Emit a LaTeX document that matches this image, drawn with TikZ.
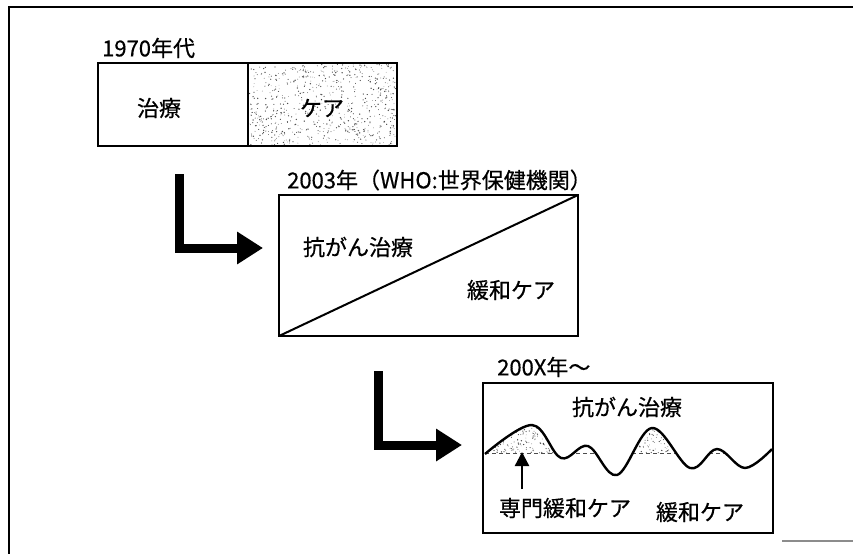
\documentclass[tikz,border=0pt]{standalone}
\usepackage{fontspec}
\newfontfamily\jp{Noto Sans CJK JP}[FakeBold=0.5]
\usetikzlibrary{arrows.meta}
\begin{document}
\begin{tikzpicture}[x=1pt,y=-1pt,
  boxframe/.style={draw, line width=2.2pt, inner sep=0pt, outer sep=0pt, anchor=north west},
  txt/.style={font=\jp\fontsize{22}{26}\selectfont, inner sep=0pt},
  bigarrow/.style={line width=9pt, line join=miter, -{Triangle[length=26pt,width=31pt]}},
  smallarrow/.style={line width=2.4pt, -{Triangle[length=14pt,width=14pt]}},
  dot/.style={fill=black!70},
  wave/.style={line width=2.4pt, line join=round}]
\useasboundingbox (0,0) rectangle (853,554);
\fill[white] (0,0) rectangle (853,554);
% outer frame
\draw[line width=1.5pt] (853,7) -- (9,7) -- (9,554);
\draw[line width=1.4pt, black!45] (782,541) -- (853,541);

% ---- 1970s ----
\node[txt, anchor=west] (t1970) at (102,48) {1970年代};
\pgfmathsetseed{12}
\begin{scope}
  \clip (249,64) rectangle (396,145);
  \foreach \i in {1,...,700}{
    \pgfmathsetmacro\rr{0.3+0.45*rnd}
    \fill[dot] ({249+147*rnd},{64+81*rnd}) circle[radius=\rr pt];
  }
\end{scope}
\node[boxframe, minimum width=150pt, minimum height=83pt] (treat) at (98,63) {};
\node[boxframe, minimum width=149pt, minimum height=83pt] (care) at (248,63) {};
\node[txt] (treatlbl) at (159,108) {治療};
\node[txt] (carelbl) at (322,108) {ケア};

% ---- arrow 1 ----
\coordinate (a1s) at (179.5,174);
\coordinate (a1e) at (263,248);
\draw[bigarrow] (a1s) |- (a1e);

% ---- 2003 ----
\node[txt, anchor=west] (t2003) at (287,180) {2003年（WHO:世界保健機関）};
\node[boxframe, minimum width=299pt, minimum height=141pt] (who) at (279,195) {};
\draw[line width=2pt] (who.south west) -- (who.north east);
\node[txt] (anti1) at (358,247) {抗がん治療};
\node[txt] (pall1) at (511,290) {緩和ケア};

% ---- arrow 2 ----
\coordinate (a2s) at (378.5,371);
\coordinate (a2e) at (462,445);
\draw[bigarrow] (a2s) |- (a2e);

% ---- 200X ----
\node[txt, anchor=west] (t200x) at (497,367) {200X年〜};
\def\wavepath{plot[smooth, tension=0.6] coordinates {(485,454) (532,425) (561,458) (588,446) (617,475) (652,428) (690,468) (717,449) (745,468) (772,449)}}
% stipple under the two big peaks
\begin{scope}
  \clip \wavepath -- (772,533) -- (485,533) -- cycle;
  \clip (485,410) rectangle (772,453);
  \pgfmathsetseed{5}
  \foreach \i in {1,...,220}{
    \pgfmathsetmacro\rr{0.3+0.4*rnd}
    \fill[dot] ({486+72*rnd},{420+33*rnd}) circle[radius=\rr pt];
  }
  \foreach \i in {1,...,90}{
    \pgfmathsetmacro\rr{0.3+0.4*rnd}
    \fill[dot] ({633+38*rnd},{424+29*rnd}) circle[radius=\rr pt];
  }
  \draw[line width=0.8pt, black!70, dash pattern=on 4pt off 3pt] (485,453) -- (772,453);
\end{scope}
\node[boxframe, minimum width=290pt, minimum height=150pt] (now) at (483,383) {};
\draw[wave] \wavepath;
\node[txt] (anti2) at (627,407) {抗がん治療};
\node[txt] (spec) at (565,508) {専門緩和ケア};
\node[txt] (pall2) at (700,512) {緩和ケア};
\coordinate (sp) at (522,489);
\coordinate (pk) at (522,452);
\draw[smallarrow] (sp) -- (pk);
\end{tikzpicture}
\end{document}
